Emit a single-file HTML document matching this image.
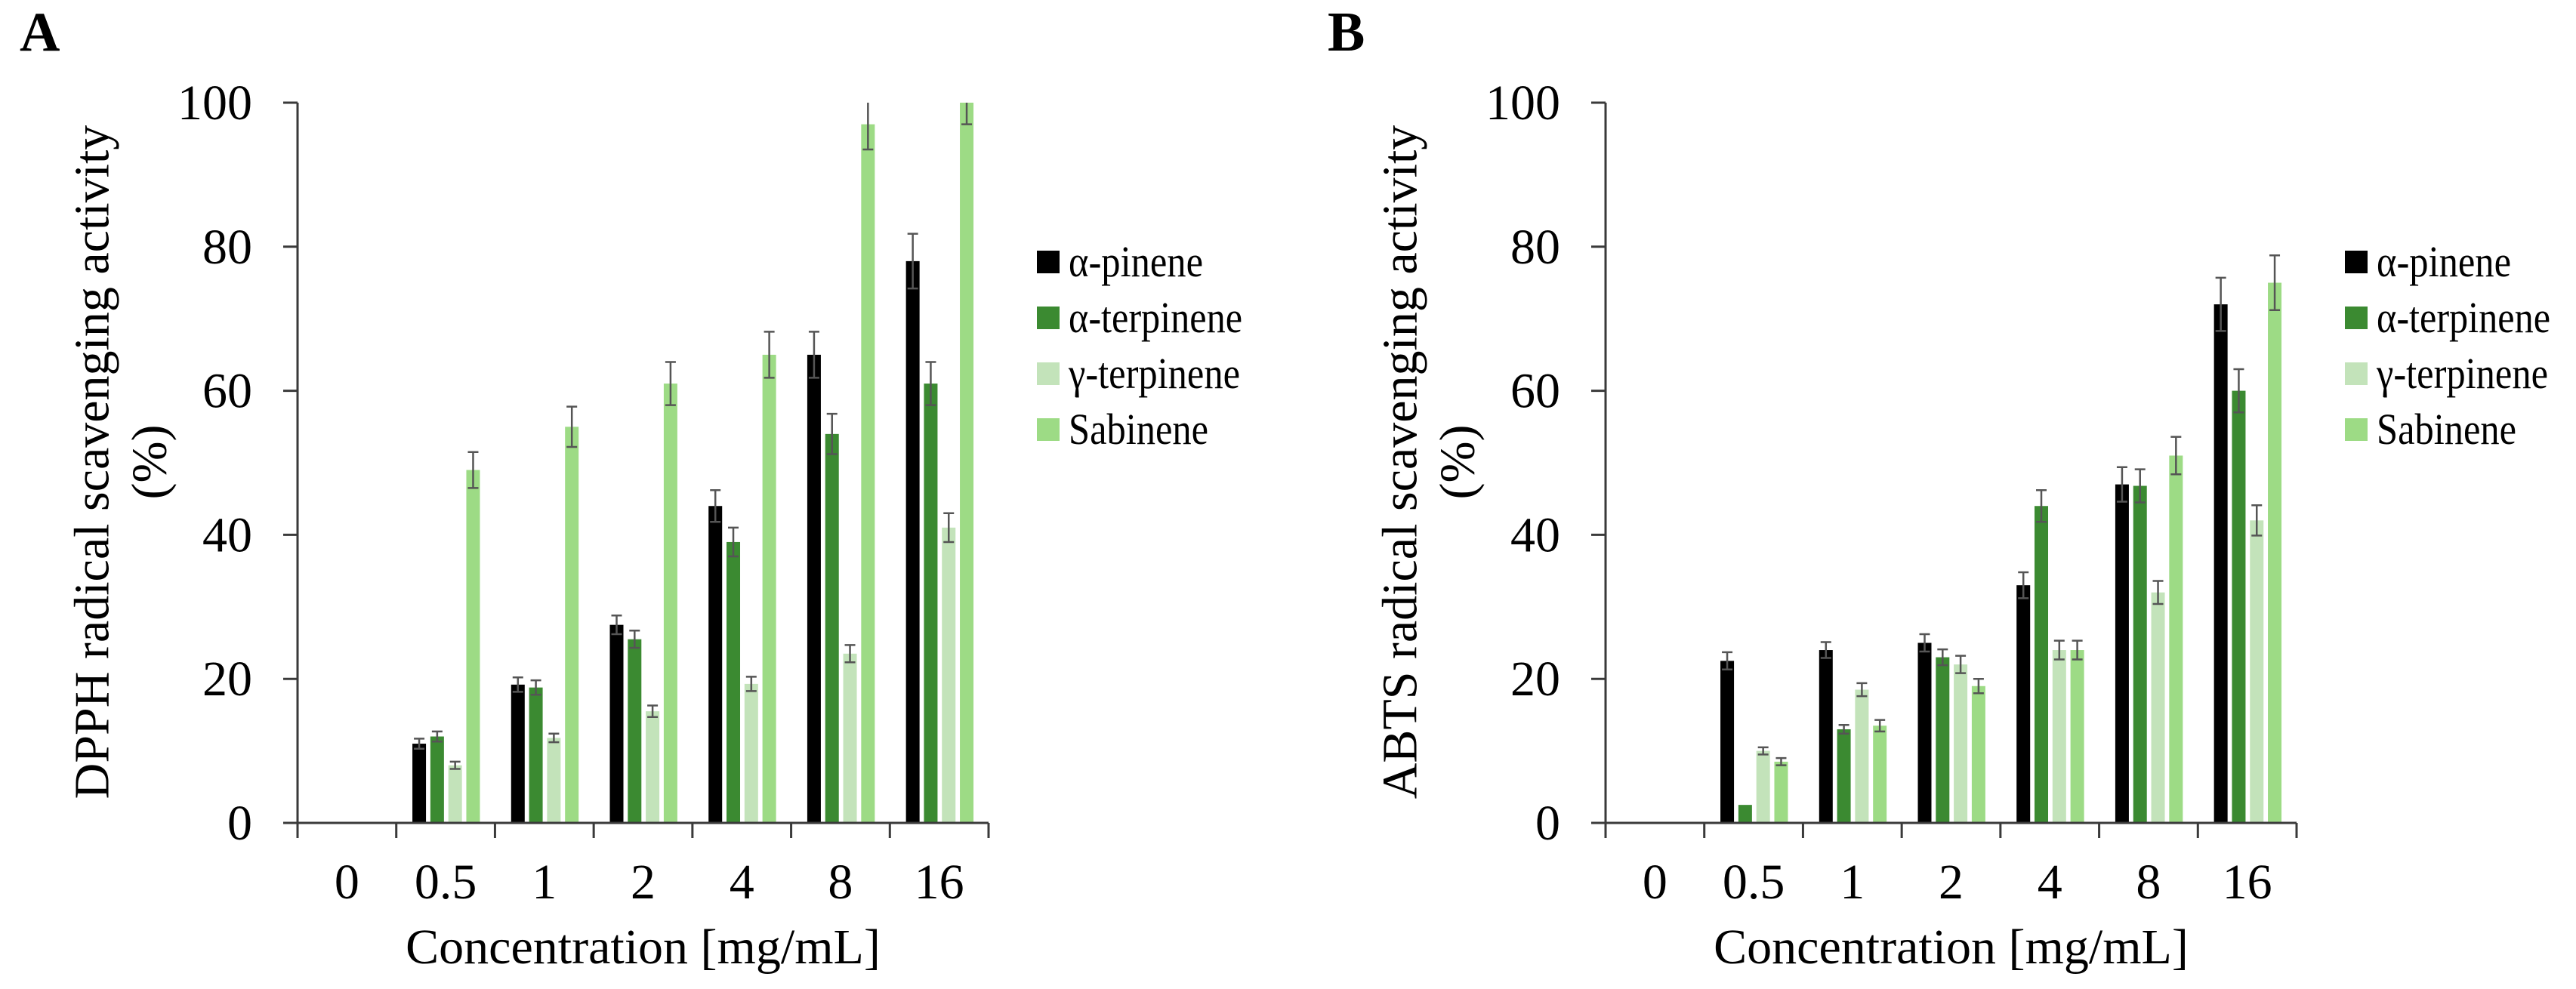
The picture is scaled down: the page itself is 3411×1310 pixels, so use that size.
<!DOCTYPE html>
<html><head><meta charset="utf-8"><style>
html,body{margin:0;padding:0;background:#fff;}
svg{display:block;font-family:"Liberation Serif",serif;}
</style></head><body>
<svg id="fig" width="3411" height="1310" viewBox="0 0 3411 1310" xmlns="http://www.w3.org/2000/svg"></svg>
<script>
const categories = ["0","0.5","1","2","4","8","16"];
const seriesNames = ["α-pinene","α-terpinene","γ-terpinene","Sabinene"];
const yTicks = [0,20,40,60,80,100];
// DPPH (panel A)
const dpphPinene    = [0,11,19.2,27.5,44,65,78];
const dpphATerp     = [0,12,18.8,25.5,39,54,61];
const dpphGTerp     = [0,8,11.8,15.5,19.3,23.5,41];
const dpphSabinene  = [0,49,55,61,65,97,100];
const dpphPineneErr = [0,0.7,1,1.3,2.2,3.2,3.8];
const dpphATerpErr  = [0,0.7,1,1.2,2,2.8,3];
const dpphGTerpErr  = [0,0.5,0.6,0.8,1,1.2,2];
const dpphSabErr    = [0,2.5,2.8,3,3.2,3.5,3];
// ABTS (panel B)
const abtsPinene    = [0,22.5,24,25,33,47,72];
const abtsATerp     = [0,2.5,13,23,44,46.8,60];
const abtsGTerp     = [0,10,18.5,22,24,32,42];
const abtsSabinene  = [0,8.5,13.5,19,24,51,75];
const abtsPineneErr = [0,1.2,1.1,1.2,1.8,2.4,3.7];
const abtsATerpErr  = [0,0,0.6,1.1,2.2,2.3,3];
const abtsGTerpErr  = [0,0.5,0.9,1.2,1.3,1.6,2.1];
const abtsSabErr    = [0,0.5,0.8,1,1.3,2.6,3.8];

const colors = ["#000000","#3b8a31","#c3e3ba","#9ddb85"];
const NS = "http://www.w3.org/2000/svg";
const svg = document.getElementById('fig');
function mk(tag, attrs, parent){const e=document.createElementNS(NS,tag);for(const k in attrs)e.setAttribute(k,attrs[k]);(parent||svg).appendChild(e);return e;}

function panel(ox, letter, ytitle, series, errs, key){
  const g = mk('g',{});
  
  
  const x0 = ox, x1 = ox+915, yBase = 1090, yTop = 136;
  const catW = (x1-x0)/categories.length;
  const yS = v => yBase - v*(yBase-yTop)/100;
  const xC = i => x0 + catW*(i+0.5);
  const lt = mk('text',{x:ox-368,y:67,'font-size':74,'font-weight':'bold'},g);
  lt.textContent = letter;
  
  
  // bars
  series.forEach((vals, s) => {
    vals.forEach((v, i) => {
      if (v <= 0) return;
      const bx = xC(i) - 44 + s*23.8;
      const r = mk('rect',{x:bx,y:yS(v),width:18,height:yBase-yS(v),fill:colors[s]},g);
      
      
      const e = errs[s][i];
      if (e > 0) {
        const cx = bx+9;
        const top = yS(Math.min(100, v+e)), bot = yS(v-e);
        const el = mk('path',{d:`M${cx},${top}V${bot}M${cx-7},${bot}H${cx+7}` + (v+e<=100?`M${cx-7},${top}H${cx+7}`:''),stroke:'#555',"stroke-width":2.5,fill:'none'},g);
        
        
      }
    });
  });
  // axes
  const ax = mk('path',{d:`M${x0},${yTop}V${yBase+20}M${x0-18},${yBase}H${x1}`,stroke:'#3a3a3a','stroke-width':3,fill:'none'},g);
  
  
  yTicks.forEach(t => {
    const tk = mk('path',{d:`M${x0-19},${yS(t)}H${x0}`,stroke:'#3a3a3a','stroke-width':3},g);
    
    
    const tl = mk('text',{x:x0-60,y:yS(t)+22,'font-size':66,'text-anchor':'end'},g);
    tl.textContent = t;
    
    
  });
  for (let i=0;i<=categories.length;i++){
    const tk = mk('path',{d:`M${x0+catW*i},${yBase}V${yBase+20}`,stroke:'#3a3a3a','stroke-width':3},g);
    
    
  }
  categories.forEach((c,i) => {
    const tl = mk('text',{x:xC(i),y:1190,'font-size':66,'text-anchor':'middle'},g);
    tl.textContent = c;
    
    
  });
  const xt = mk('text',{x:(x0+x1)/2,y:1276,'font-size':66,'text-anchor':'middle'},g);
  xt.textContent = 'Concentration [mg/mL]';
  
  
  const yt = mk('text',{transform:`translate(${ox-272},612) rotate(-90)`,'font-size':66,'text-anchor':'middle','dominant-baseline':'central'},g);
  yt.textContent = ytitle;
  
  
  const yt2 = mk('text',{transform:`translate(${ox-196},612) rotate(-90)`,'font-size':66,'text-anchor':'middle','dominant-baseline':'central'},g);
  yt2.textContent = '(%)';
  
  
  // legend
  const lens = [178,230,227,185];
  seriesNames.forEach((n,s) => {
    const cy = 347 + s*74;
    const sq = mk('rect',{x:ox+979,y:cy-15,width:30,height:30,fill:colors[s]},g);
    
    
    const lt2 = mk('text',{x:ox+981+40,y:cy+19,'font-size':58,textLength:lens[s],lengthAdjust:'spacingAndGlyphs'},g);
    lt2.textContent = n;
    
    
  });
}
panel(394,'A','DPPH radical scavenging activity',[dpphPinene,dpphATerp,dpphGTerp,dpphSabinene],[dpphPineneErr,dpphATerpErr,dpphGTerpErr,dpphSabErr],'dpph');
panel(2126,'B','ABTS radical scavenging activity',[abtsPinene,abtsATerp,abtsGTerp,abtsSabinene],[abtsPineneErr,abtsATerpErr,abtsGTerpErr,abtsSabErr],'abts');
</script>
</body></html>
